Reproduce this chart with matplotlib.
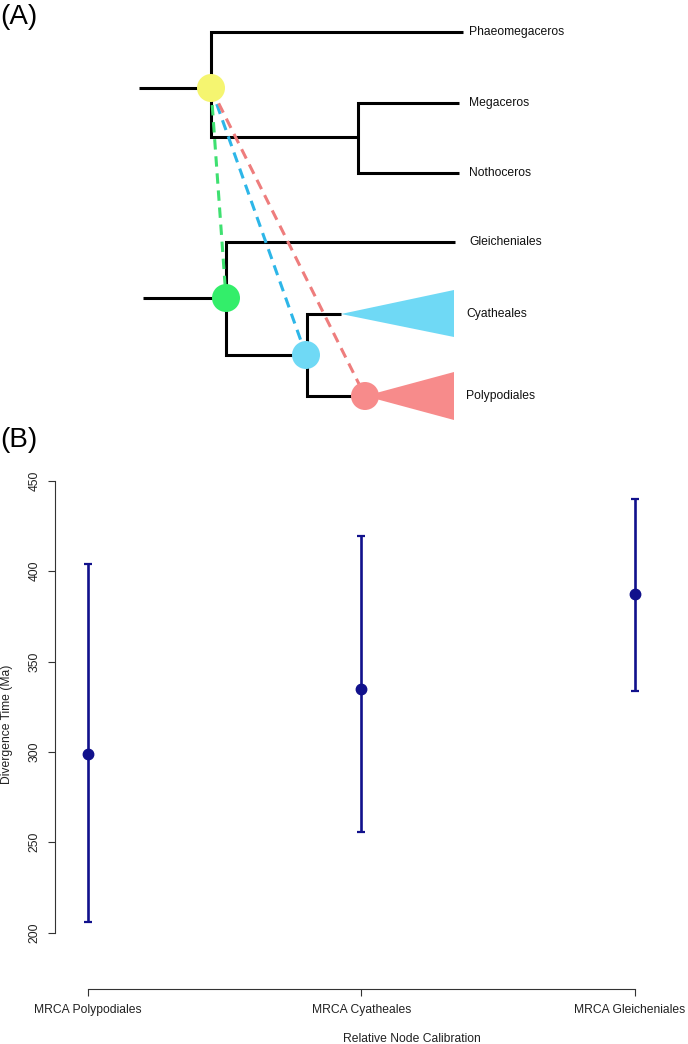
import matplotlib
matplotlib.use("Agg")
import matplotlib.pyplot as plt
import matplotlib.transforms as mtransforms
from matplotlib.patches import Circle, Polygon

plt.rcParams['font.family'] = ['Liberation Sans', 'DejaVu Sans']

# ---------------- data ----------------
# Panel B: divergence times
categories = ["MRCA Polypodiales", "MRCA Cyatheales", "MRCA Gleicheniales"]
means = [299.1, 334.6, 387.3]
lower = [205.7, 255.5, 333.5]
upper = [403.8, 419.2, 440.0]
yticks = [200, 250, 300, 350, 400, 450]

# Panel A: tree (tip names, tip heights and branch paths in drawing units)
tips = ["Phaeomegaceros", "Megaceros", "Nothoceros", "Gleicheniales", "Cyatheales", "Polypodiales"]
tip_y = [32, 103, 173, 242, 314, 396]
tip_label_x = [469, 469, 469, 469, 466, 466]
branches = [
    [(139, 88), (211, 88)],
    [(463, 32), (211, 32), (211, 137), (358, 137)],
    [(459, 103), (358, 103), (358, 173), (459, 173)],
    [(143, 298), (226, 298)],
    [(455, 242), (226, 242), (226, 355), (307, 355)],
    [(341, 314), (307, 314), (307, 396), (365, 396)],
]
clades = [  # collapsed clades (apex, top, bottom)
    [(341, 314), (454, 290), (454, 337)],
    [(365, 396), (454, 372), (454, 420)],
]
clade_colors = ["#6FD9F5", "#F78B8B"]
nodes_xy = [(211, 88), (226, 298), (306, 355), (365, 396)]
node_colors = ["#F5F570", "#33EE6A", "#6FD9F5", "#F78B8B"]
link_colors = ["#3EE070", "#2DB6E8", "#EE7D7D"]

W, H = 688, 1044
fig = plt.figure(figsize=(W / 100, H / 100), dpi=100)

# ---------------- Panel A ----------------
hA = 425
axA = fig.add_axes([0, 1 - hA / H, 1, hA / H])
axA.set_xlim(0, W)
axA.set_ylim(hA, 0)
axA.axis('off')

for path in branches:
    xs = [p[0] for p in path]
    ys = [p[1] for p in path]
    axA.plot(xs, ys, color='black', lw=2.2, solid_capstyle='butt',
             solid_joinstyle='miter', zorder=2)

for tri, c in zip(clades, clade_colors):
    axA.add_patch(Polygon(tri, closed=True, facecolor=c, edgecolor='none', zorder=1))

x0, y0 = nodes_xy[0]
for (x1, y1), c in zip(nodes_xy[1:], link_colors):
    axA.plot([x0, x1], [y0, y1], color=c, lw=2.2, linestyle=(0, (3.4, 2.2)),
             dash_capstyle='butt', zorder=3)

for (x, y), c in zip(nodes_xy, node_colors):
    axA.add_patch(Circle((x, y), 14, facecolor=c, edgecolor='none', zorder=4))

for name, y, x in zip(tips, tip_y, tip_label_x):
    axA.text(x, y, name, fontsize=8.7, ha='left', va='center', color='#111111')

fig.text(0, 1 - 17 / H, "(A)", fontsize=20, ha='left', va='center')
fig.text(0, 1 - 440 / H, "(B)", fontsize=20, ha='left', va='center')

# ---------------- Panel B ----------------
left_px, right_px = 55, 680
bottom_px, top_px = 988.7, 470
axB = fig.add_axes([left_px / W, 1 - bottom_px / H,
                    (right_px - left_px) / W, (bottom_px - top_px) / H])
xs = [1, 2, 3]
px_per_unit_x = 273.65
axB.set_xlim(1 - (87.7 - left_px) / px_per_unit_x, 3 + (right_px - 635) / px_per_unit_x)
px_per_unit_y = 1.808
axB.set_ylim(200 - (bottom_px - 932.7) / px_per_unit_y, 200 + (932.7 - top_px) / px_per_unit_y)

err_lo = [m - l for m, l in zip(means, lower)]
err_hi = [u - m for m, u in zip(means, upper)]
navy = '#11118C'
axB.errorbar(xs, means, yerr=[err_lo, err_hi], fmt='o', color=navy, ecolor=navy,
             elinewidth=1.9, capsize=2.6, capthick=1.6, markersize=7.5, zorder=3)

for s in ['top', 'right']:
    axB.spines[s].set_visible(False)
axB.spines['left'].set_bounds(200, 450)
axB.spines['bottom'].set_bounds(1, 3)
for s in ['left', 'bottom']:
    axB.spines[s].set_linewidth(0.8)
    axB.spines[s].set_color('#333333')

axB.set_yticks(yticks)
axB.set_xticks(xs)
axB.set_xticklabels(categories)
axB.tick_params(axis='both', direction='out', length=5, width=0.8, color='#333333',
                labelsize=8.7, labelcolor='#222222')
axB.tick_params(axis='y', pad=5.5)
axB.tick_params(axis='x', pad=6)
for lab in axB.get_yticklabels():
    lab.set_rotation(90)
    lab.set_va('center')
# keep the last category label inside the figure edge
last = axB.get_xticklabels()[-1]
last.set_transform(last.get_transform() +
                   mtransforms.ScaledTranslation(-5 / 100, 0, fig.dpi_scale_trans))

fig.text(411.7 / W, 1 - 1039.3 / H, "Relative Node Calibration", fontsize=8.7,
         ha='center', va='center', color='#222222')
fig.text(7 / W, 1 - 724 / H, "Divergence Time (Ma)", fontsize=8.7, rotation=90,
         ha='center', va='center', color='#222222')

fig.savefig("out.png", dpi=100)
